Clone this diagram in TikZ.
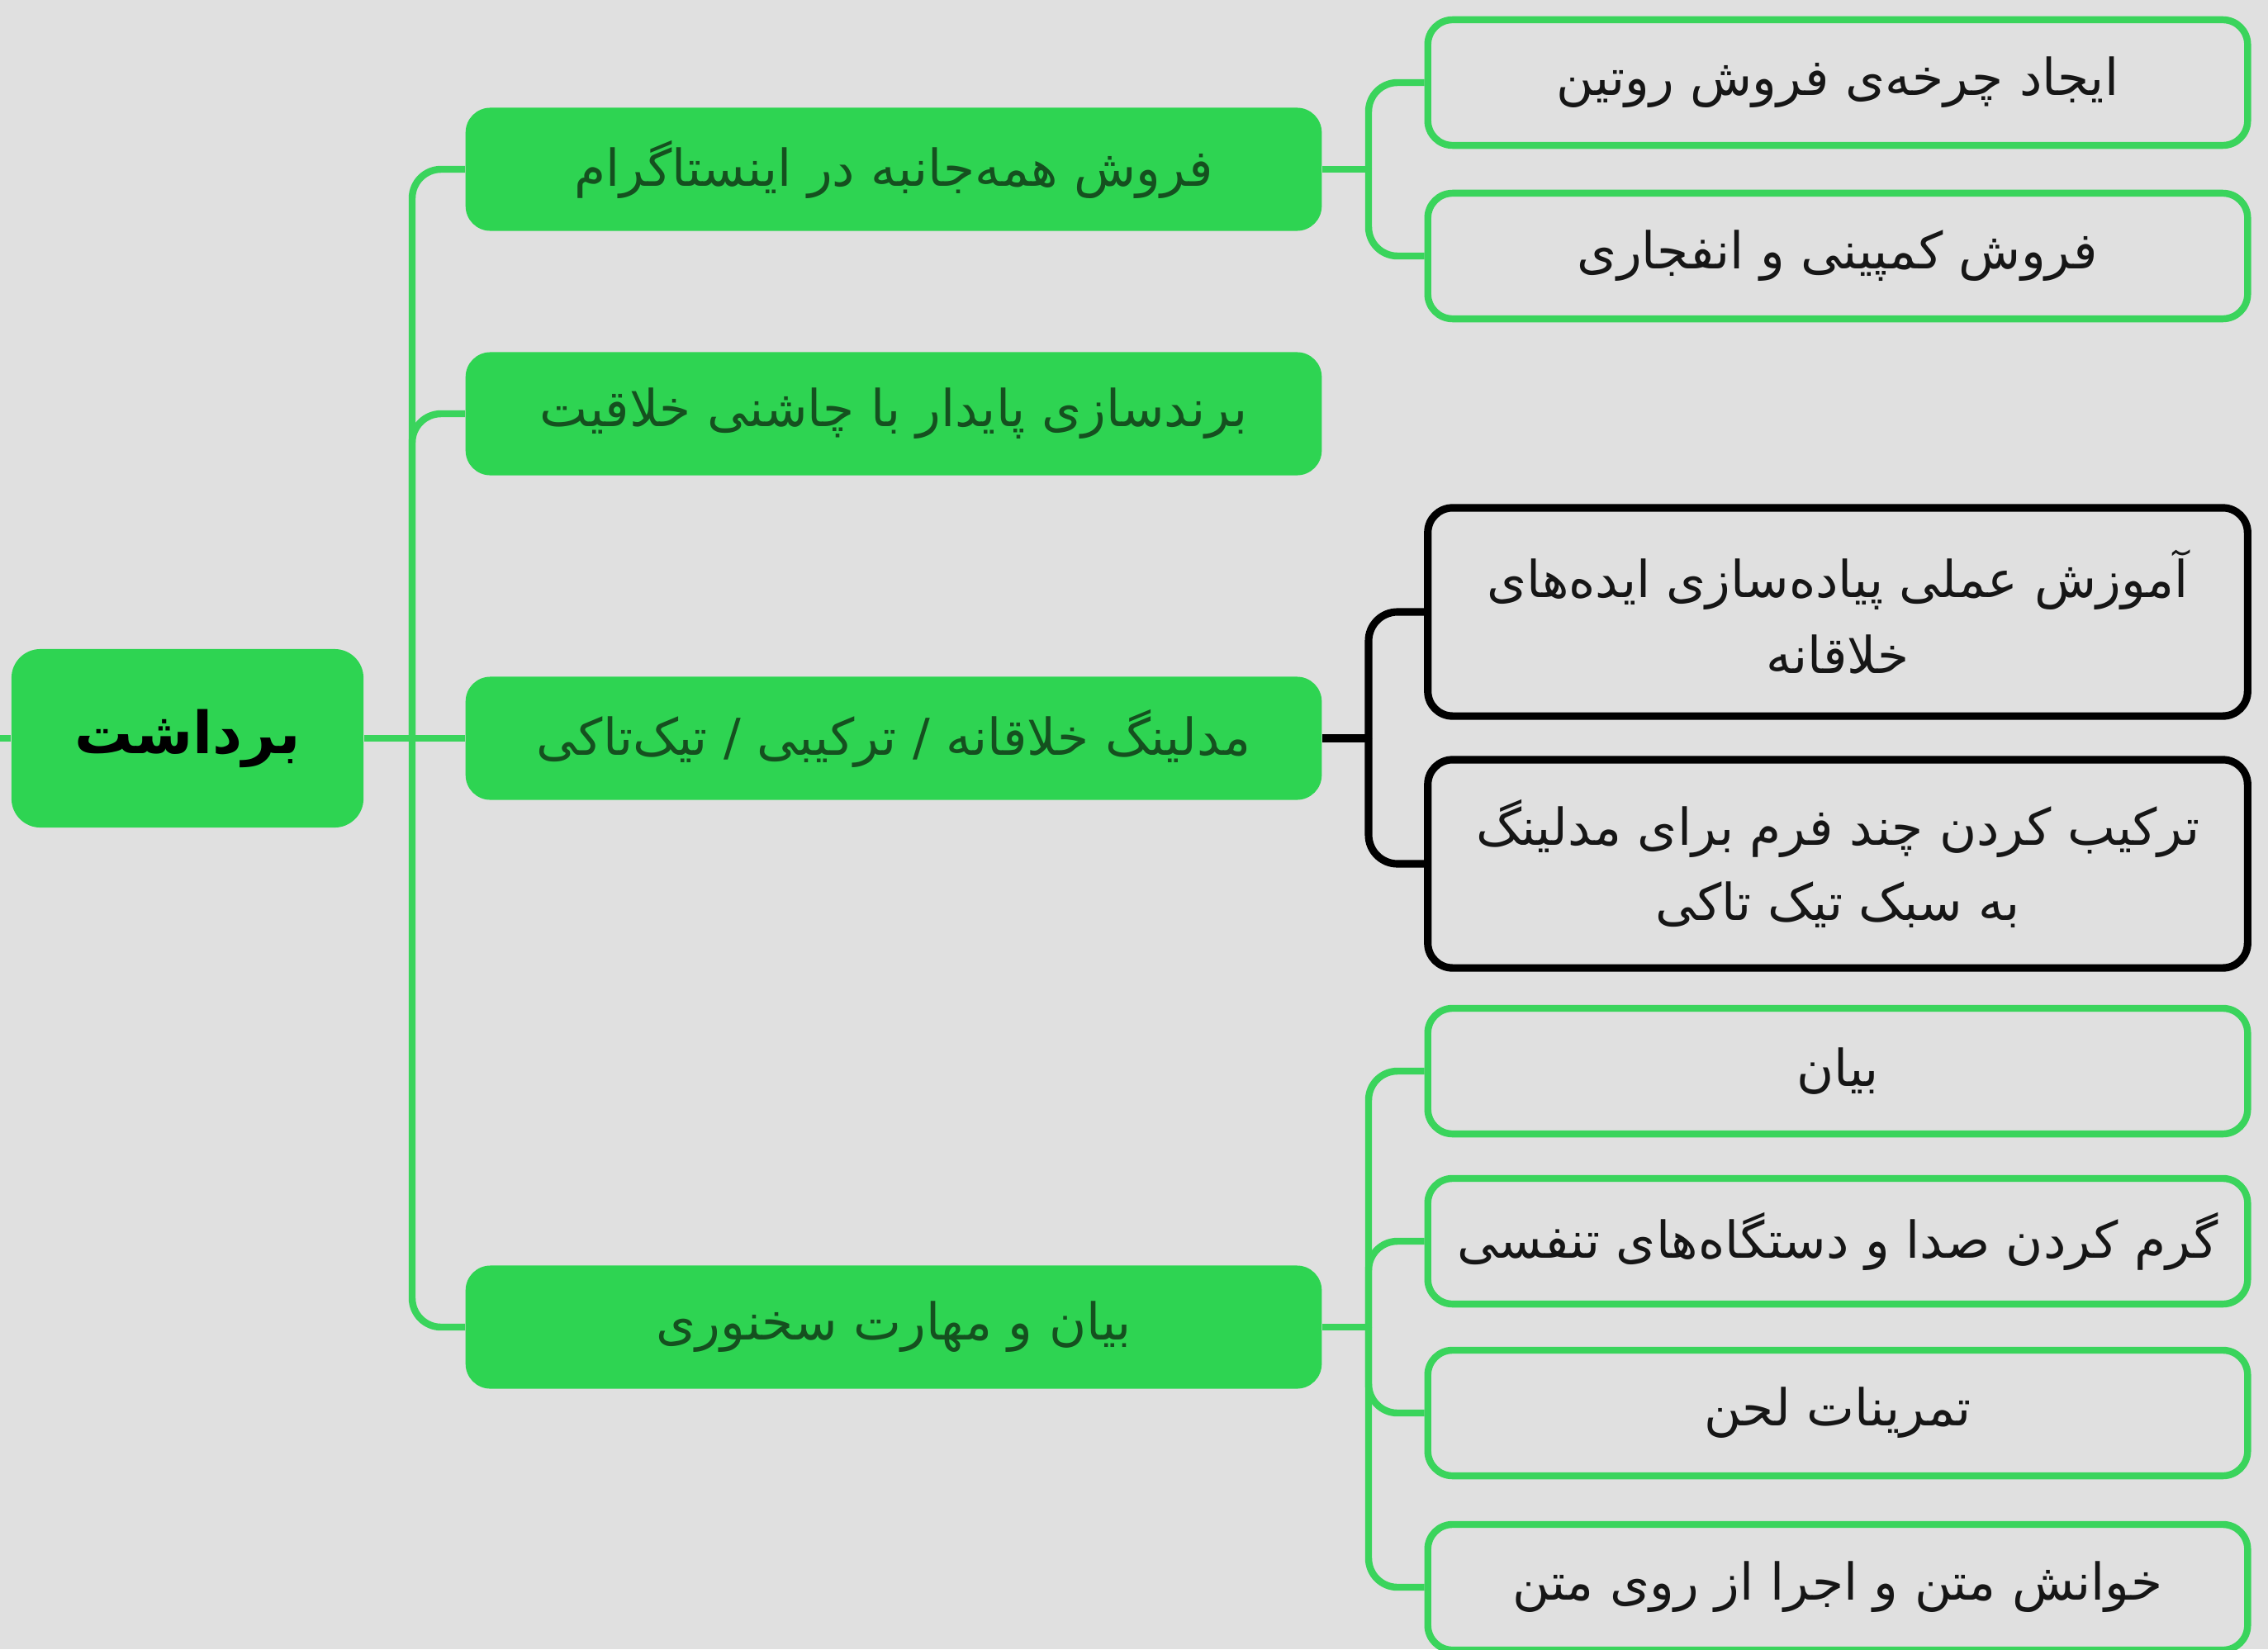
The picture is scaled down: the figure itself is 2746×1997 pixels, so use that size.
\documentclass[tikz,border=0pt]{standalone}
\usepackage{fontspec}
\newfontfamily\farsifont[Script=Arabic]{DejaVu Sans}
\TeXXeTstate=1
\definecolor{bgray}{HTML}{E0E0E0}
\definecolor{leafgreen}{HTML}{2ED452}
\definecolor{linegreen}{HTML}{3AD45C}
\definecolor{textgreen}{HTML}{15501F}
\definecolor{inkgray}{HTML}{161616}
\newcommand{\fa}[1]{\beginR #1\endR}

\begin{document}
\begin{tikzpicture}[x=0.01cm,y=-0.01cm,
  root node/.style={fill=leafgreen, rounded corners=0.35cm, inner sep=0pt,
    minimum width=4.26cm, minimum height=2.16cm,
    font=\farsifont\fontsize{20}{26}\bfseries\selectfont},
  topic node/.style={fill=leafgreen, rounded corners=0.3cm, inner sep=0pt,
    minimum width=10.36cm, minimum height=1.49cm, text=textgreen,
    font=\farsifont\fontsize{17.5}{26}\selectfont},
  sub node/.style={draw=linegreen, line width=2.4pt, rounded corners=0.3cm,
    inner sep=0pt, minimum width=9.92cm, minimum height=1.52cm,
    align=center, text=inkgray, font=\farsifont\fontsize{17.5}{26}\selectfont},
  dark node/.style={sub node, draw=black, line width=2.6pt, minimum height=2.52cm},
  link/.style={draw=linegreen, line width=2.4pt, rounded corners=0.35cm},
  dark link/.style={link, draw=black, line width=2.6pt}]

  \fill[bgray] (0,0) rectangle (2746,1997);
  \useasboundingbox (0,0) rectangle (2746,1997);

  % root and first level
  \node[root node] (root) at (227,894) {\fa{برداشت}};
  \node[topic node] (t1) at (1082,205) {\fa{فروش همه‌جانبه در اینستاگرام}};
  \node[topic node] (t2) at (1082,501) {\fa{برندسازی پایدار با چاشنی خلاقیت}};
  \node[topic node] (t3) at (1082,894) {\fa{مدلینگ خلاقانه / ترکیبی / تیک‌تاکی}};
  \node[topic node] (t4) at (1082,1607) {\fa{بیان و مهارت سخنوری}};

  % second level
  \node[sub node] (a1) at (2225,100) {\fa{ایجاد چرخه‌ی فروش روتین}};
  \node[sub node] (a2) at (2225,310) {\fa{فروش کمپینی و انفجاری}};
  \node[dark node] (c1) at (2225,741) {\fa{آموزش عملی پیاده‌سازی ایده‌های}\\\fa{خلاقانه}};
  \node[dark node] (c2) at (2225,1046) {\fa{ترکیب کردن چند فرم برای مدلینگ}\\\fa{به سبک تیک تاکی}};
  \node[sub node] (d1) at (2225,1297) {\fa{بیان}};
  \node[sub node] (d2) at (2225,1503) {\fa{گرم کردن صدا و دستگاه‌های تنفسی}};
  \node[sub node] (d3) at (2225,1711) {\fa{تمرینات لحن}};
  \node[sub node] (d4) at (2225,1922) {\fa{خوانش متن و اجرا از روی متن}};

  \coordinate (edge) at (0,894);
  \coordinate (trunk) at (499,894);
  \coordinate (busA) at (1657,205);
  \coordinate (busC) at (1657,894);
  \coordinate (busD) at (1657,1607);

  % connectors
  \draw[link] (edge) -- (root.west);
  \draw[link] (root.east) -- (trunk);
  \draw[link] (trunk) |- (t1.west);
  \draw[link] (trunk) |- (t2.west);
  \draw[link] (trunk) -- (t3.west);
  \draw[link] (trunk) |- (t4.west);
  \draw[link] (t1.east) -- (busA);
  \draw[link] (busA) |- (a1.west);
  \draw[link] (busA) |- (a2.west);
  \draw[dark link] (t3.east) -- (busC);
  \draw[dark link] (busC) |- (c1.west);
  \draw[dark link] (busC) |- (c2.west);
  \draw[link] (t4.east) -- (busD);
  \draw[link] (busD) |- (d1.west);
  \draw[link] (busD) |- (d2.west);
  \draw[link] (busD) |- (d3.west);
  \draw[link] (busD) |- (d4.west);
\end{tikzpicture}
\end{document}
